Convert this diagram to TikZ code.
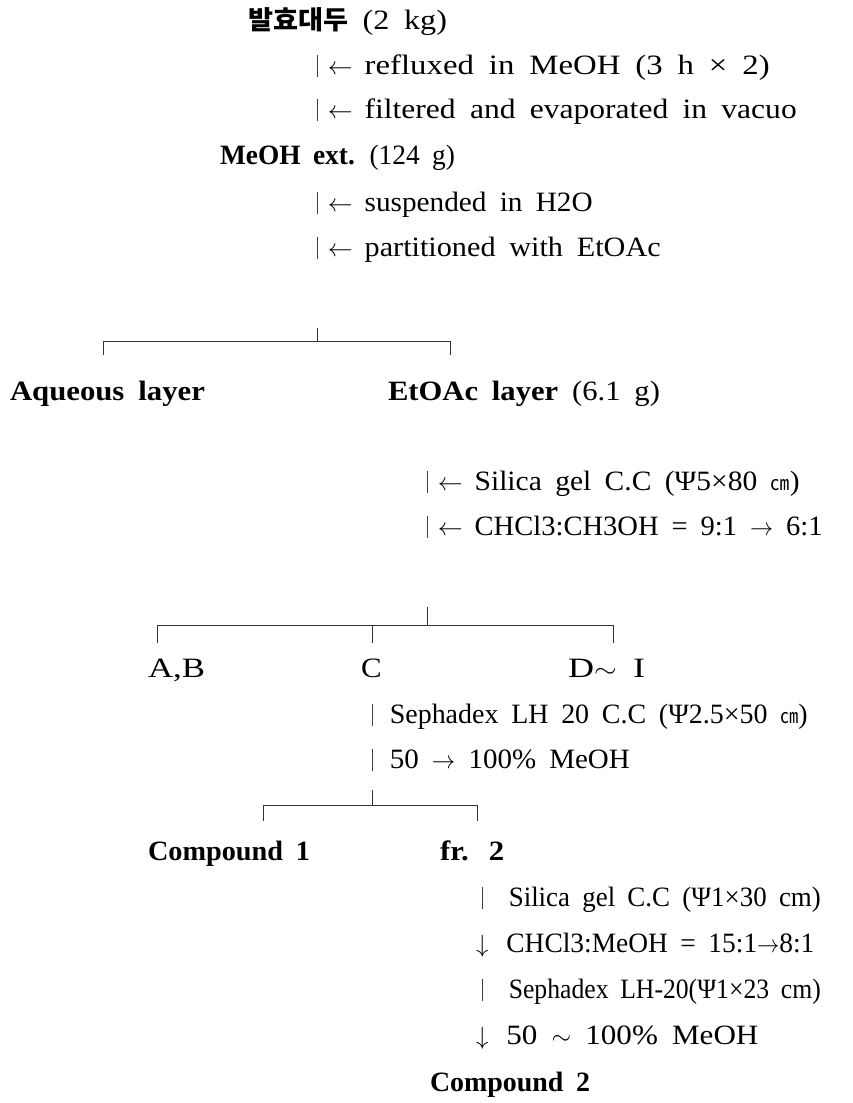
\documentclass[tikz,border=0pt]{standalone}
\usepackage{fontspec}
\usepackage{graphicx}
\setmainfont{Liberation Serif}[FakeStretch=1.1]
\newfontfamily\cjk{Noto Sans CJK KR}
\newcommand\vbar{\textcolor{black!75}{\rule[-3pt]{0.8pt}{22pt}}}
\newcommand\cmunit{{\cjk\fontsize{20}{24}\selectfont ㎝}}
\newcommand\widespaces{\spaceskip 14pt\relax}
\newcommand\txtfont{\fontsize{28}{33}\selectfont\widespaces}
\newcommand\hdfont{\fontsize{28}{33}\selectfont\bfseries\widespaces}
\newcommand\fitto[2]{\resizebox{#1}{\height}{#2}}
\newcommand\larr{\vbar\hspace{10pt}$\leftarrow$\hspace{12pt}}
\tikzset{
  every node/.style={inner sep=0pt, outer sep=0pt, anchor=base west},
  txt/.style={font=\txtfont},
  hd/.style={font=\hdfont},
  br/.style={line width=0.9pt, draw=black!80}
}
\begin{document}
\begin{tikzpicture}[x=1pt,y=-1pt]
\useasboundingbox[fill=white] (0,0) rectangle (852,1103);
% level 0
\node[hd] (raw) at (248,29) {\fitto{199pt}{{\cjk\fontsize{26}{30}\selectfont 발효대두} {\mdseries (2 kg)}}};
\node[txt] (s1) at (317,74) {\larr\fitto{405pt}{refluxed in MeOH (3 h × 2)}};
\node[txt] (s2) at (317,118) {\larr\fitto{432pt}{filtered and evaporated in vacuo}};
\node[hd] (ext) at (220,164) {\fitto{235pt}{MeOH ext. {\mdseries (124 g)}}};
\node[txt] (s3) at (317,211) {\larr\fitto{228pt}{suspended in H2O}};
\node[txt] (s4) at (317,256) {\larr\fitto{296pt}{partitioned with EtOAc}};
% bracket 1
\coordinate (b1t) at (317,328);
\coordinate (b1m) at (317,341);
\coordinate (b1l) at (103,341);
\coordinate (b1r) at (450,341);
\coordinate (b1la) at (103,355);
\coordinate (b1ra) at (450,355);
\draw[br] (b1t) -- (b1m);
\draw[br] (b1la) -- (b1l) -- (b1r) -- (b1ra);
\node[hd] (aq) at (10,400) {\fitto{195pt}{Aqueous layer}};
\node[hd] (et) at (388,400) {\fitto{272pt}{EtOAc layer {\mdseries (6.1 g)}}};
\node[txt] (s5) at (427,490) {\larr\fitto{325pt}{Silica gel C.C (Ψ5×80 \cmunit)}};
\node[txt] (s6) at (427,535) {\larr\fitto{348pt}{CHCl3:CH3OH = 9:1 $\rightarrow$ 6:1}};
% bracket 2
\coordinate (b2t) at (427,607);
\coordinate (b2m) at (427,625);
\coordinate (b2l) at (157,625);
\coordinate (b2c) at (372,625);
\coordinate (b2r) at (613,625);
\coordinate (b2la) at (157,643);
\coordinate (b2ca) at (372,643);
\coordinate (b2ra) at (613,643);
\draw[br] (b2t) -- (b2m);
\draw[br] (b2la) -- (b2l) -- (b2r) -- (b2ra);
\draw[br] (b2c) -- (b2ca);
\node[txt] (ab) at (148,677) {\fitto{57pt}{A,B}};
\node[txt] (c) at (361,677) {C};
\node[txt] (di) at (568,677) {\fitto{77pt}{D$\sim$ I}};
\node[txt] (s7) at (372,723) {\vbar\hspace{17pt}\fitto{418pt}{Sephadex LH 20 C.C (Ψ2.5×50 \cmunit)}};
\node[txt] (s8) at (372,768) {\vbar\hspace{17pt}\fitto{240pt}{50 $\rightarrow$ 100\% MeOH}};
% bracket 3
\coordinate (b3t) at (372,790);
\coordinate (b3m) at (372,805);
\coordinate (b3l) at (263,805);
\coordinate (b3r) at (477,805);
\coordinate (b3la) at (263,821);
\coordinate (b3ra) at (477,821);
\draw[br] (b3t) -- (b3m);
\draw[br] (b3la) -- (b3l) -- (b3r) -- (b3ra);
\node[hd] (cp1) at (148,860) {\fitto{162pt}{Compound 1}};
\node[hd] (fr2) at (440,860) {fr.\hspace{20pt}2};
\node[txt] (s9) at (482,906) {\vbar\hspace{26pt}\fitto{312pt}{Silica gel C.C (Ψ1×30 cm)}};
\node[txt] (s10) at (476,952) {$\downarrow$\hspace{18pt}\fitto{308pt}{CHCl3:MeOH = 15:1$\rightarrow$8:1}};
\node[txt] (s11) at (482,998) {\vbar\hspace{26pt}\fitto{312pt}{Sephadex LH-20(Ψ1×23 cm)}};
\node[txt] (s12) at (476,1044) {$\downarrow$\hspace{18pt}\fitto{252pt}{50 $\sim$ 100\% MeOH}};
\node[hd] (cp2) at (430,1091) {\fitto{160pt}{Compound 2}};
\end{tikzpicture}
\end{document}
